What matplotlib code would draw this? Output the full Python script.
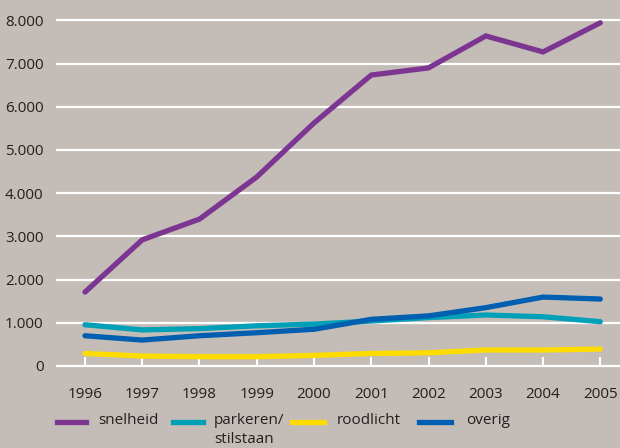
import matplotlib.pyplot as plt
from matplotlib.lines import Line2D

plt.rcParams['font.family'] = ['Open Sans', 'DejaVu Sans']

# Overtredingen per categorie, 1996-2005
years = [1996, 1997, 1998, 1999, 2000, 2001, 2002, 2003, 2004, 2005]
snelheid = [1710, 2920, 3400, 4375, 5625, 6735, 6900, 7640, 7270, 7945]
parkeren = [955, 835, 865, 930, 970, 1040, 1120, 1180, 1140, 1025]
roodlicht = [290, 230, 215, 215, 245, 290, 305, 370, 370, 390]
overig = [700, 600, 700, 770, 850, 1080, 1160, 1350, 1595, 1550]

yticks = [0, 1000, 2000, 3000, 4000, 5000, 6000, 7000, 8000]
ytick_labels = ['0', '1.000', '2.000', '3.000', '4.000', '5.000', '6.000', '7.000', '8.000']

series = [
    ('snelheid', snelheid, '#7d3592'),
    ('parkeren/\nstilstaan', parkeren, '#00a0b8'),
    ('roodlicht', roodlicht, '#ffdc00'),
    ('overig', overig, '#005fb0'),
]

bg = '#c4bcb7'
txt = '#231f20'

fig = plt.figure(figsize=(6.2, 4.48), dpi=100, facecolor=bg)
ax = fig.add_axes([56 / 620, 78 / 448, 564 / 620, 370 / 448])
ax.set_facecolor(bg)

for name, vals, col in series:
    ax.plot(years, vals, color=col, lw=3.8, solid_capstyle='round',
            solid_joinstyle='miter', zorder=3)

ax.set_xlim(1995.494, 2005.344)
ax.set_ylim(-93, 8472)

# white horizontal gridlines
for v in yticks:
    ax.axhline(v, color='white', lw=1.6, zorder=1)

ax.set_yticks(yticks)
ax.set_yticklabels(ytick_labels)
ax.set_xticks(years)
ax.set_xticklabels([str(y) for y in years])
ax.tick_params(axis='y', length=0, pad=9, labelsize=11, labelcolor=txt)
ax.tick_params(axis='x', length=0, pad=12, labelsize=11, labelcolor=txt)

# short white ticks standing on the zero line
ax.vlines(years, 0, 210, color='white', lw=1.5, zorder=2)

for s in ax.spines.values():
    s.set_visible(False)

# legend below the plot
handle_x = [(57, 86), (173, 203), (292, 324), (419, 451)]
text_x = [98, 214, 337, 466]
ly = 448 - 422
for (name, vals, col), (x0, x1), tx in zip(series, handle_x, text_x):
    fig.add_artist(Line2D([x0 / 620, x1 / 620], [ly / 448, ly / 448],
                          color=col, lw=3.8, transform=fig.transFigure))
    fig.text(tx / 620, (ly + 9) / 448, name, ha='left', va='top',
             fontsize=11, color=txt, linespacing=1.4)

fig.savefig('out.png', dpi=100, facecolor=bg)
